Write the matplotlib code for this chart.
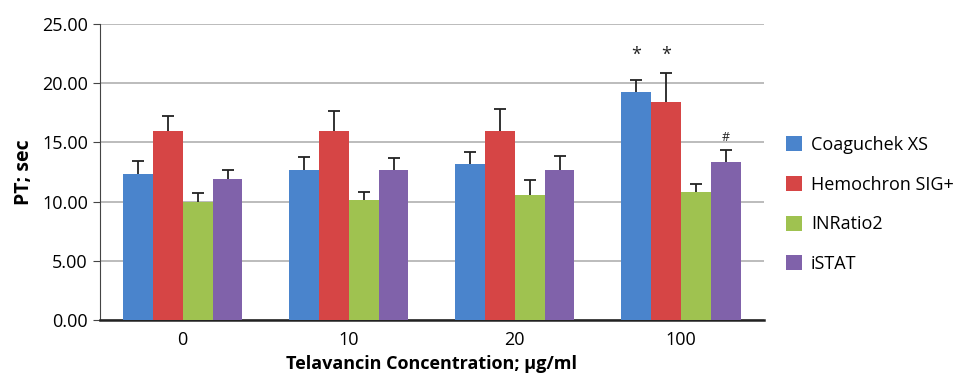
import matplotlib
matplotlib.use("Agg")
import matplotlib.pyplot as plt
import numpy as np

plt.rcParams['font.family'] = ['Open Sans', 'DejaVu Sans']

# data
concentrations = ['0', '10', '20', '100']
devices = ['Coaguchek XS', 'Hemochron SIG+', 'INRatio2', 'iSTAT']
colors = ['#4a84cc', '#d64545', '#9fc250', '#8062aa']

coaguchek = [12.36, 12.70, 13.15, 19.23]
hemochron = [16.00, 16.00, 16.00, 18.44]
inratio = [10.00, 10.13, 10.56, 10.84]
istat = [11.93, 12.70, 12.70, 13.32]

coaguchek_sd = [1.07, 1.10, 1.01, 1.04]
hemochron_sd = [1.20, 1.65, 1.80, 2.42]
inratio_sd = [0.75, 0.68, 1.26, 0.67]
istat_sd = [0.74, 1.00, 1.18, 1.06]

marks = [('*', 3, 0), ('*', 3, 1), ('#', 3, 3)]  # (symbol, group, device)

values = [coaguchek, hemochron, inratio, istat]
errors = [coaguchek_sd, hemochron_sd, inratio_sd, istat_sd]

fig = plt.figure(figsize=(9.68, 3.86), dpi=100)
ax = fig.add_axes([0.103, 0.171, 0.686, 0.767])

x = np.arange(len(concentrations))
w = 0.18
for i in range(4):
    pos = x + (i - 1.5) * w
    ax.bar(pos, values[i], w, color=colors[i], label=devices[i], zorder=3)
    eb = ax.errorbar(pos, values[i], yerr=[np.zeros(4), errors[i]], fmt='none',
                     ecolor='#222222', elinewidth=1.3, capsize=4, capthick=1.3, zorder=4)
    eb[1][0].set_visible(False)  # only the upper cap

for sym, g, d in marks:
    top = values[d][g] + errors[d][g]
    xp = x[g] + (d - 1.5) * w
    if sym == '*':
        ax.text(xp, 22.4, sym, ha='center', va='center', fontsize=13, color='#222222')
    else:
        ax.text(xp, top + 0.5, sym, ha='center', va='bottom', fontsize=9, color='#222222')

ax.set_xlim(-0.5, 3.5)
ax.set_ylim(0, 25)
ax.set_yticks(np.arange(0, 26, 5))
ax.set_yticklabels(['%.2f' % v for v in np.arange(0, 26, 5)])
ax.set_xticks(x)
ax.set_xticklabels(concentrations)
ax.tick_params(axis='x', length=0, labelsize=13, pad=8)
ax.tick_params(axis='y', length=5, labelsize=13, color='#444444')
ax.yaxis.grid(True, color='#b0b0b0', linewidth=1.2, zorder=0)
ax.set_axisbelow(True)
for s in ['top', 'right']:
    ax.spines[s].set_visible(False)
ax.spines['left'].set_color('#444444')
ax.spines['bottom'].set_linewidth(1.8)
ax.spines['bottom'].set_color('#222222')

ax.set_ylabel('PT; sec', fontsize=14, fontweight='bold', labelpad=6)
ax.set_xlabel('Telavancin Concentration; µg/ml', fontsize=13, fontweight='bold', labelpad=4)

ax.legend(loc='center left', bbox_to_anchor=(1.033, 0.39), frameon=False, fontsize=13,
          handlelength=0.9, handleheight=0.9, labelspacing=1.2, handletextpad=0.5,
          borderpad=0, borderaxespad=0)

fig.savefig('out.png', dpi=100)
